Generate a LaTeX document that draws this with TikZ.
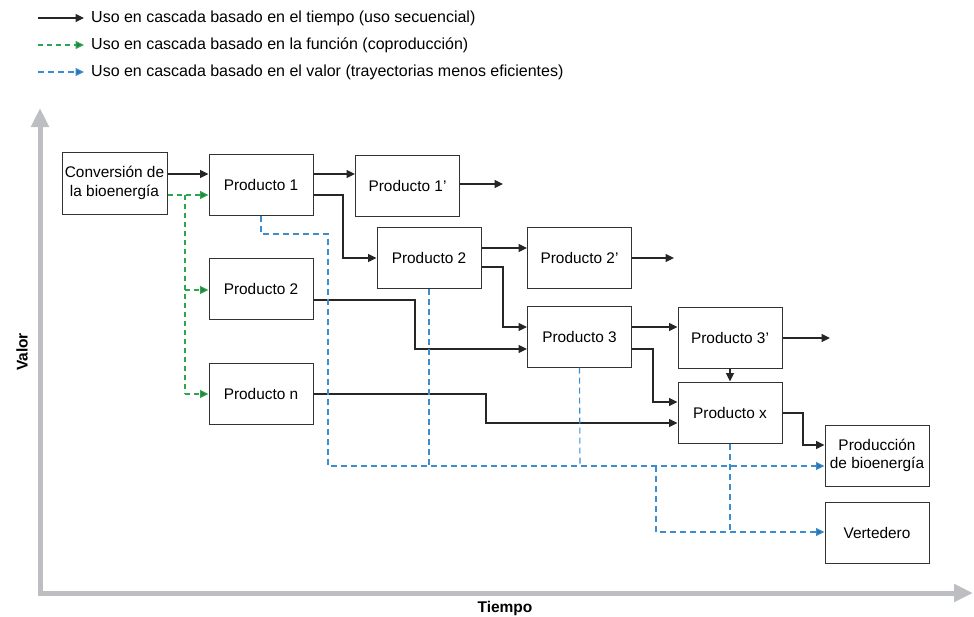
\documentclass[tikz,border=0pt]{standalone}
\usepackage{fontspec}
\setmainfont{Liberation Sans}
\usetikzlibrary{arrows.meta}
\definecolor{axisgray}{HTML}{BDBEC2}
\definecolor{cgreen}{HTML}{2DA44E}
\definecolor{cblue}{HTML}{3C8DD0}
\definecolor{boxline}{HTML}{333333}
\tikzset{
  pbox/.style={draw=boxline, line width=1pt, fill=white, minimum width=104pt, minimum height=61pt, inner sep=0pt, align=center, font=\fontsize{15.4}{18.5}\selectfont},
  tarr/.style={draw=black!85, line width=1.1pt, -{Triangle[length=8.5pt,width=8pt]}},
  garr/.style={draw=cgreen, line width=1.1pt, dash pattern=on 5pt off 4pt, -{Triangle[length=8.5pt,width=8pt,fill=cgreen!80!black]}},
  gline/.style={draw=cgreen, line width=1.1pt, dash pattern=on 5pt off 4pt},
  barr/.style={draw=cblue, line width=1.1pt, dash pattern=on 6pt off 4pt, -{Triangle[length=8.5pt,width=8pt,fill=cblue!80!black]}},
  bline/.style={draw=cblue, line width=1.1pt, dash pattern=on 6pt off 4pt},
  legtext/.style={anchor=west, inner sep=0pt, font=\fontsize{16}{18}\selectfont},
  axislab/.style={font=\bfseries\fontsize{15.5}{17}\selectfont, inner sep=0pt},
}
\begin{document}
\begin{tikzpicture}[x=1pt,y=-1pt]
\useasboundingbox (0,0) rectangle (974,616);

% legend
\coordinate (l1a) at (38,18); \coordinate (l1b) at (84,18);
\coordinate (l2a) at (38,45); \coordinate (l2b) at (84,45);
\coordinate (l3a) at (38,72); \coordinate (l3b) at (84,72);
\draw[tarr] (l1a) -- (l1b);
\draw[garr] (l2a) -- (l2b);
\draw[barr] (l3a) -- (l3b);
\node[legtext] (t1) at (91,18) {Uso en cascada basado en el tiempo (uso secuencial)};
\node[legtext] (t2) at (91,45) {Uso en cascada basado en la función (coproducción)};
\node[legtext] (t3) at (91,72) {Uso en cascada basado en el valor (trayectorias menos eficientes)};

% axes
\coordinate (ytop) at (40,108);
\coordinate (orig) at (40,593);
\coordinate (xend) at (973,593);
\draw[axisgray, line width=5pt, line join=miter, {Triangle[length=19pt,width=17pt]}-{Triangle[length=19pt,width=17pt]}] (ytop) -- (orig) -- (xend);
\node[axislab, rotate=90] (valor) at (22,352) {Valor};
\node[axislab] (tiempo) at (505,608) {Tiempo};

% boxes
\node[pbox, minimum width=105pt, minimum height=62pt] (conv) at (114.5,183) {Conversión de\\la bioenergía};
\node[pbox] (p1) at (261,184.5) {Producto 1};
\node[pbox] (p2a) at (261,289) {Producto 2};
\node[pbox] (pn) at (261,394) {Producto n};
\node[pbox] (p1p) at (407.5,185.5) {Producto 1’};
\node[pbox] (p2) at (429,257.5) {Producto 2};
\node[pbox] (p2p) at (579.5,257.5) {Producto 2’};
\node[pbox] (p3) at (579.5,336.5) {Producto 3};
\node[pbox] (p3p) at (730,338) {Producto 3’};
\node[pbox] (px) at (730,412.5) {Producto x};
\node[pbox] (bio) at (877,455.5) {Producción\\de bioenergía};
\node[pbox] (vert) at (877,533) {Vertedero};

% free ends
\coordinate (o1) at (503,184);
\coordinate (o2) at (674,258);
\coordinate (o3) at (830,338);

% time-based (solid)
\draw[tarr] (conv.east |- 0,174) -- (p1.west |- 0,174);
\draw[tarr] (p1.east |- 0,174) -- (p1p.west |- 0,174);
\draw[tarr] (p1.east |- 0,195) -- (343,195) -- (343,258) -- (p2.west |- 0,258);
\draw[tarr] (p1p.east |- o1) -- (o1);
\draw[tarr] (p2a.east |- 0,300) -- (415,300) -- (415,349) -- (p3.west |- 0,349);
\draw[tarr] (p2.east |- 0,248) -- (p2p.west |- 0,248);
\draw[tarr] (p2.east |- 0,267) -- (503,267) -- (503,327) -- (p3.west |- 0,327);
\draw[tarr] (p2p.east |- o2) -- (o2);
\draw[tarr] (pn.east |- 0,394) -- (486,394) -- (486,423) -- (px.west |- 0,423);
\draw[tarr] (p3.east |- 0,327) -- (p3p.west |- 0,327);
\draw[tarr] (p3.east |- 0,349) -- (653,349) -- (653,402) -- (px.west |- 0,402);
\draw[tarr] (p3p.east |- o3) -- (o3);
\draw[tarr] (p3p.south) -- (px.north);
\draw[tarr] (px.east |- 0,413) -- (803,413) -- (803,445) -- (bio.west |- 0,445);

% function-based (green dashed)
\coordinate (g) at (185,195);
\draw[garr] (conv.east |- g) -- (p1.west |- g);
\draw[gline] (g) -- (185,394);
\draw[garr] (185,290) -- (p2a.west |- 0,290);
\draw[garr] (185,394) -- (pn.west |- 0,394);

% value-based (blue dashed)
\draw[barr] (p1.south) -- (261,234) -- (328,234) -- (328,466) -- (bio.west |- 0,466);
\draw[bline] (p2.south) -- (429,466);
\draw[bline] (p3.south) -- (580,466);
\draw[bline] (px.south) -- (730,532);
\draw[barr] (656,466) -- (656,532) -- (vert.west |- 0,532);
\end{tikzpicture}
\end{document}
